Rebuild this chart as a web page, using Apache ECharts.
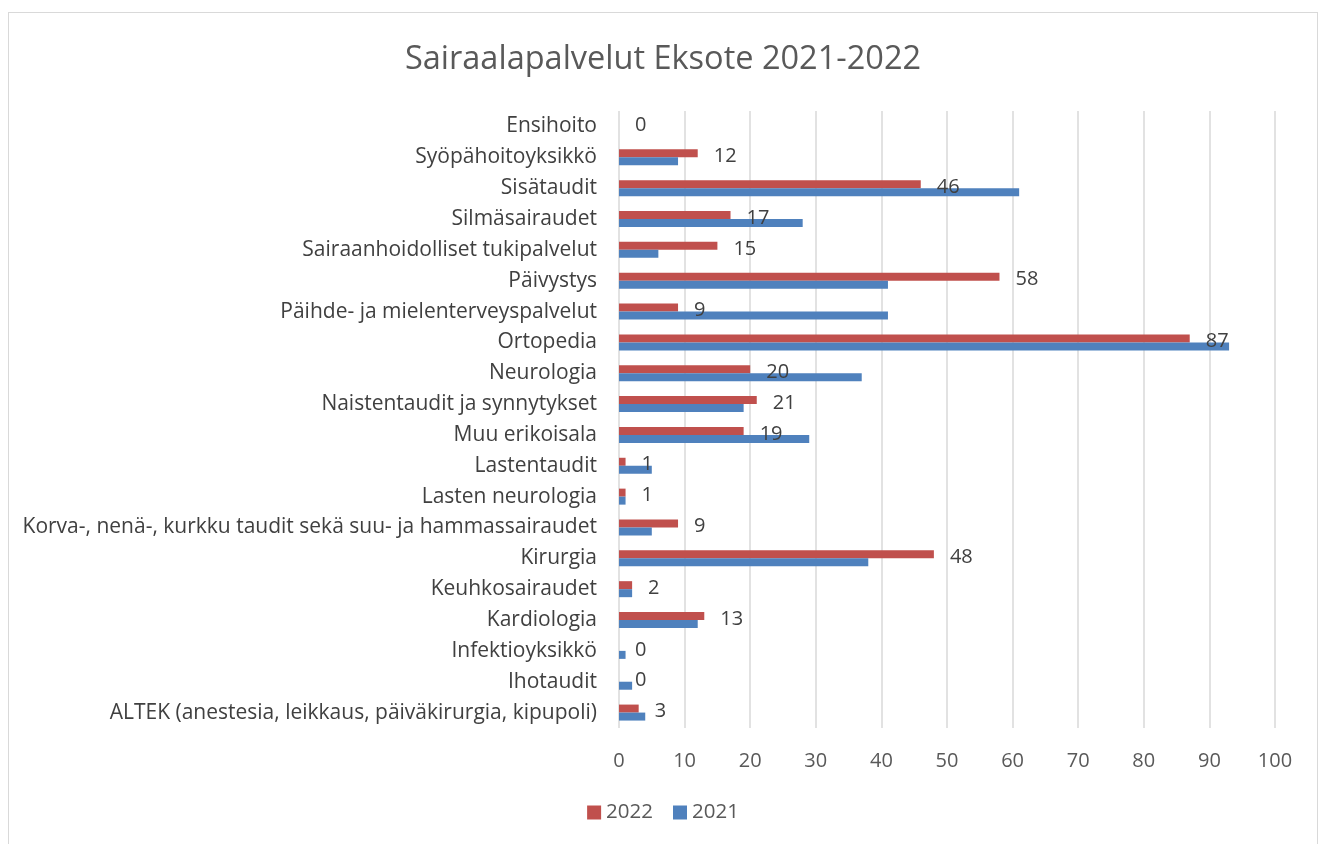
<!DOCTYPE html>
<html>
<head>
<meta charset="utf-8">
<script src="https://cdn.jsdelivr.net/npm/echarts@6/dist/echarts.min.js"></script>
<style>
html,body{margin:0;padding:0;background:#fff;}
#frame{position:absolute;left:8px;top:12px;width:1310px;height:840px;border:1px solid #d9d9d9;box-sizing:border-box;}
#chart{position:absolute;left:0;top:0;width:1326px;height:844px;}
</style>
</head>
<body>
<div id="frame"></div>
<div id="chart"></div>
<script>
const categories = [
  "Ensihoito",
  "Syöpähoitoyksikkö",
  "Sisätaudit",
  "Silmäsairaudet",
  "Sairaanhoidolliset tukipalvelut",
  "Päivystys",
  "Päihde- ja mielenterveyspalvelut",
  "Ortopedia",
  "Neurologia",
  "Naistentaudit ja synnytykset",
  "Muu erikoisala",
  "Lastentaudit",
  "Lasten neurologia",
  "Korva-, nenä-, kurkku taudit sekä suu- ja hammassairaudet",
  "Kirurgia",
  "Keuhkosairaudet",
  "Kardiologia",
  "Infektioyksikkö",
  "Ihotaudit",
  "ALTEK (anestesia, leikkaus, päiväkirurgia, kipupoli)"
];
const values2022 = [0, 12, 46, 17, 15, 58, 9, 87, 20, 21, 19, 1, 1, 9, 48, 2, 13, 0, 0, 3];
const values2021 = [0, 9, 61, 28, 6, 41, 41, 93, 37, 19, 29, 5, 1, 5, 38, 2, 12, 1, 2, 4];
const xTicks = [0, 10, 20, 30, 40, 50, 60, 70, 80, 90, 100];

const FONT = '"Open Sans", "Noto Sans", sans-serif';
const chart = echarts.init(document.getElementById('chart'), null, {renderer: 'canvas'});
chart.setOption({
  animation: false,
  backgroundColor: 'transparent',
  title: {
    text: 'Sairaalapalvelut Eksote 2021-2022',
    left: 'center',
    top: 38,
    textStyle: {fontFamily: FONT, fontSize: 32.5, fontWeight: 'normal', color: '#595959'}
  },
  legend: {
    data: ['2022', '2021'],
    bottom: 16,
    left: 'center',
    itemWidth: 14,
    itemHeight: 14,
    itemGap: 20,
    icon: 'rect',
    textStyle: {fontFamily: FONT, fontSize: 20.5, color: '#595959'}
  },
  grid: {left: 619, right: 51, top: 111, bottom: 116, containLabel: false},
  xAxis: {
    type: 'value',
    min: xTicks[0],
    max: xTicks[xTicks.length - 1],
    interval: 10,
    axisLine: {show: false},
    axisTick: {show: false},
    axisLabel: {fontFamily: FONT, fontSize: 20, color: '#595959', margin: 23},
    splitLine: {lineStyle: {color: '#d9d9d9', width: 1.5}}
  },
  yAxis: {
    type: 'category',
    data: categories,
    inverse: true,
    axisLine: {show: false},
    axisTick: {show: false},
    axisLabel: {fontFamily: FONT, fontSize: 21, color: '#404040', margin: 22}
  },
  series: [
    {
      name: '2022',
      type: 'bar',
      data: values2022,
      barWidth: 8,
      barGap: '0%',
      itemStyle: {color: '#C0504D'},
      label: {
        show: true,
        position: 'right',
        distance: 16,
        offset: [0, 3],
        fontFamily: FONT,
        fontSize: 20,
        color: '#404040'
      }
    },
    {
      name: '2021',
      type: 'bar',
      data: values2021,
      barWidth: 8,
      barGap: '0%',
      itemStyle: {color: '#4F81BD'}
    }
  ]
});
</script>
</body>
</html>
